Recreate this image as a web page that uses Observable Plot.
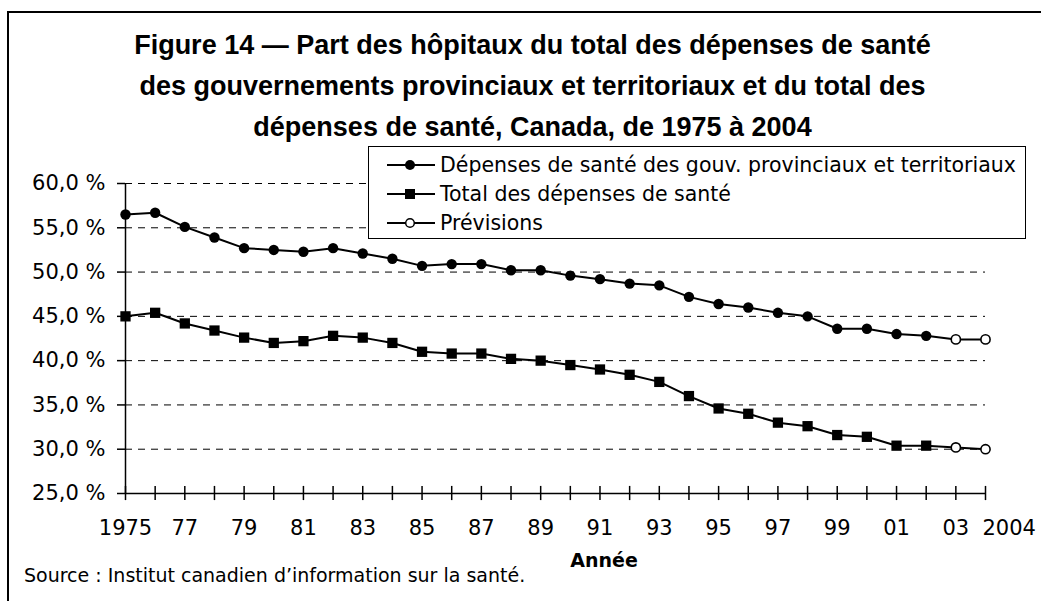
<!DOCTYPE html>
<html>
<head>
<meta charset="utf-8">
<script src="https://cdn.jsdelivr.net/npm/d3@7"></script>
<script src="https://cdn.jsdelivr.net/npm/@observablehq/plot@0.6"></script>
<style>
  html, body { margin: 0; padding: 0; background: #fff; }
  #wrap { position: relative; width: 1041px; height: 601px; overflow: hidden; font-family: "DejaVu Sans", sans-serif; color: #000; }
  #frameTop { position: absolute; left: 7px; top: 11px; width: 1040px; height: 2px; background: #000; }
  #frameLeft { position: absolute; left: 7px; top: 11px; width: 2px; height: 600px; background: #000; }
  #title { position: absolute; left: 12px; top: 25px; width: 1041px; text-align: center; font-family: "Liberation Sans", Arial, sans-serif; font-weight: bold; font-size: 27px; line-height: 41px; }
  #legend { position: absolute; left: 368px; top: 146px; width: 656px; height: 91px; border: 1.5px solid #000; background: #fff; }
  .lrow { position: absolute; left: 18px; height: 29px; display: flex; align-items: center; font-size: 20.5px; white-space: nowrap; }
  .lrow svg { margin-right: 5px; }
  #xlabel { position: absolute; left: 0; width: 1208px; text-align: center; top: 549px; font-weight: bold; font-size: 19px; }
  #source { position: absolute; left: 24px; top: 564px; font-size: 19px; }
  #chart { position: absolute; left: 0; top: 0; }
</style>
</head>
<body>
<div id="wrap">
  <div id="chart"></div>
  <div id="frameTop"></div>
  <div id="frameLeft"></div>
  <div id="title"></div>
  <div id="legend"></div>
  <div id="xlabel"></div>
  <div id="source"></div>
</div>
<script>
// ---- Data ----
const titleLines = [
  "Figure 14 \u2014 Part des hôpitaux du total des dépenses de santé",
  "des gouvernements provinciaux et territoriaux et du total des",
  "dépenses de santé, Canada, de 1975 à 2004"
];
const years = [1975,1976,1977,1978,1979,1980,1981,1982,1983,1984,1985,1986,1987,1988,1989,
               1990,1991,1992,1993,1994,1995,1996,1997,1998,1999,2000,2001,2002,2003,2004];
const provTerr = [56.5,56.7,55.1,53.9,52.7,52.5,52.3,52.7,52.1,51.5,50.7,50.9,50.9,50.2,50.2,
                  49.6,49.2,48.7,48.5,47.2,46.4,46.0,45.4,45.0,43.6,43.6,43.0,42.8,42.4,42.4];
const totalHealth = [45.0,45.4,44.2,43.4,42.6,42.0,42.2,42.8,42.6,42.0,41.0,40.8,40.8,40.2,40.0,
                     39.5,39.0,38.4,37.6,36.0,34.6,34.0,33.0,32.6,31.6,31.4,30.4,30.4,30.2,30.0];
const forecastYears = [2003, 2004];
const seriesNames = ["Dépenses de santé des gouv. provinciaux et territoriaux", "Total des dépenses de santé", "Prévisions"];
const yTicks = [25,30,35,40,45,50,55,60];
const gridValues = [30,35,40,45,50,55,60];
const xTickLabels = {1975:"1975",1977:"77",1979:"79",1981:"81",1983:"83",1985:"85",1987:"87",1989:"89",
                     1991:"91",1993:"93",1995:"95",1997:"97",1999:"99",2001:"01",2003:"03"};
const lastYearLabel = "2004";
const xAxisTitle = "Année";
const sourceText = "Source : Institut canadien d\u2019information sur la santé.";

// ---- Build table ----
const rows = [];
years.forEach((y, i) => {
  const fc = forecastYears.includes(y);
  rows.push({year: y, value: provTerr[i], series: "prov", forecast: fc});
  rows.push({year: y, value: totalHealth[i], series: "total", forecast: fc});
});
const actual = rows.filter(d => !d.forecast);
const forecast = rows.filter(d => d.forecast);

const fmt = v => v.toFixed(1).replace(".", ",") + " %";

const chart = Plot.plot({
  width: 1041,
  height: 601,
  marginLeft: 125,
  marginRight: 56,
  marginTop: 183,
  marginBottom: 108,
  style: {fontFamily: "DejaVu Sans, sans-serif", fontSize: "21px", color: "#000", background: "transparent"},
  x: {domain: [1975, 2004]},
  y: {domain: [25, 60]},
  marks: [
    Plot.ruleY(gridValues, {y: d => d, x1: 1975, x2: 2004, stroke: "#000", strokeWidth: 1, strokeDasharray: "7,6"}),
    Plot.ruleX([1975], {y1: 25, y2: 60, stroke: "#000", strokeWidth: 1.5}),
    Plot.ruleY([25], {x1: 1975, x2: 2004, stroke: "#000", strokeWidth: 1.5}),
    Plot.ruleX(years, {x: d => d, y1: 24.2, y2: 25.8, stroke: "#000", strokeWidth: 1.5}),
    Plot.axisY({ticks: yTicks, tickFormat: fmt, tickSize: 8, tickPadding: 12, label: null, strokeWidth: 1.5, fontSize: 21}),
    Plot.axisX({ticks: years, tickFormat: d => xTickLabels[d] ?? "", tickSize: 0, tickPadding: 27, label: null, fontSize: 21}),
    Plot.text([2004], {x: d => d, y: 25, text: () => lastYearLabel, textAnchor: "start", lineAnchor: "top", dx: -3, dy: 27, fontSize: 21}),
    Plot.line(rows, {x: "year", y: "value", z: "series", stroke: "#000", strokeWidth: 2}),
    Plot.dot(actual.filter(d => d.series === "prov"), {x: "year", y: "value", r: 5.2, fill: "#000", stroke: "none", symbol: "circle"}),
    Plot.dot(actual.filter(d => d.series === "total"), {x: "year", y: "value", r: 5.8, fill: "#000", stroke: "none", symbol: "square"}),
    Plot.dot(forecast, {x: "year", y: "value", r: 4.6, fill: "#fff", stroke: "#000", strokeWidth: 1.6, symbol: "circle"})
  ]
});
document.getElementById("chart").appendChild(chart);

document.getElementById("title").innerHTML = titleLines.join("<br>");
document.getElementById("xlabel").textContent = xAxisTitle;
document.getElementById("source").textContent = sourceText;

// Legend
const leg = document.getElementById("legend");
const symbols = ["filledCircle", "filledSquare", "openCircle"];
seriesNames.forEach((name, i) => {
  const row = document.createElement("div");
  row.className = "lrow";
  row.style.top = (3 + i * 29) + "px";
  let sym;
  if (symbols[i] === "filledCircle") sym = '<circle cx="23" cy="8" r="5" fill="#000"/>';
  else if (symbols[i] === "filledSquare") sym = '<rect x="18" y="3" width="10" height="10" fill="#000"/>';
  else sym = '<circle cx="23" cy="8" r="4.3" fill="#fff" stroke="#000" stroke-width="1.5"/>';
  row.innerHTML = '<svg width="48" height="16"><line x1="0" y1="8" x2="48" y2="8" stroke="#000" stroke-width="2"/>' + sym + '</svg><span>' + name + '</span>';
  leg.appendChild(row);
});
</script>
</body>
</html>
